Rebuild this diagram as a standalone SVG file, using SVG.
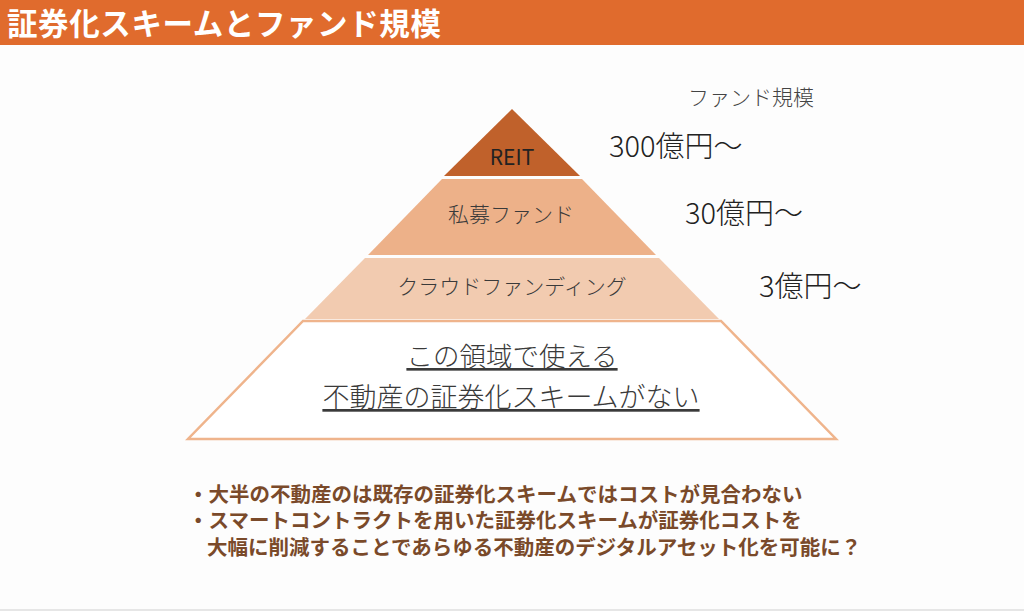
<svg xmlns="http://www.w3.org/2000/svg" width="1024" height="611" viewBox="0 0 1024 611">
  <style>
    text { font-family: "Noto Sans CJK JP", "Noto Sans", sans-serif; }
    .title { font-size: 30.5px; font-weight: 700; fill: #ffffff; letter-spacing: 0.6px; }
    .band { font-size: 21px; fill: #3a3a3a; text-anchor: middle; font-weight: 300; }
    .reit { font-size: 21px; fill: #222222; text-anchor: middle; font-weight: 400; }
    .size { font-size: 29px; fill: #222222; font-weight: 300; }
    .under { font-size: 26.5px; fill: #3a3a3a; text-anchor: middle; text-decoration: underline; font-weight: 300; }
    .bullet { font-size: 20.5px; font-weight: 700; fill: #7a4a2a; }
  </style>
  <rect x="0" y="0" width="1024" height="611" fill="#fdfdfd"/>
  <rect x="0" y="609" width="1024" height="2" fill="#e6e6e6"/>

  <g id="header">
    <rect x="0" y="0" width="1024" height="45" fill="#e06b2d"/>
    <text class="title" x="7" y="35">証券化スキームとファンド規模</text>
  </g>

  <g id="reit">
    <polygon points="512,109 580,176 444,176" fill="#c0612b"/>
    <text class="reit" x="512" y="165">REIT</text>
  </g>
  <g id="private">
    <polygon points="442,179 582,179 656,255 368,255" fill="#edb189"/>
    <text class="band" x="511" y="222">私募ファンド</text>
  </g>
  <g id="crowd">
    <polygon points="365,258 659,258 719,319 305,319" fill="#f2cbb0"/>
    <text class="band" x="512" y="294">クラウドファンディング</text>
  </g>
  <g id="base">
    <polygon points="303,321 721,321 836,439 188,439" fill="#ffffff" stroke="#efb48c" stroke-width="2.5" stroke-linejoin="miter"/>
    <text class="under" x="512" y="366">この領域で使える</text>
    <text class="under" x="511" y="407" style="font-size:27px">不動産の証券化スキームがない</text>
  </g>

  <g id="scale-labels">
    <text x="688" y="105" style="font-size:21px; fill:#444444; font-weight:300">ファンド規模</text>
    <text class="size" x="609" y="157">300億円～</text>
    <text class="size" x="685" y="224">30億円～</text>
    <text class="size" x="759" y="297">3億円～</text>
  </g>

  <g id="notes">
    <text class="bullet"><tspan x="188" y="502">・大半の不動産のは既存の証券化スキームではコストが見合わない</tspan><tspan x="188" y="528">・スマートコントラクトを用いた証券化スキームが証券化コストを</tspan><tspan x="207" y="555">大幅に削減することであらゆる不動産のデジタルアセット化を可能に？</tspan></text>
  </g>
</svg>
